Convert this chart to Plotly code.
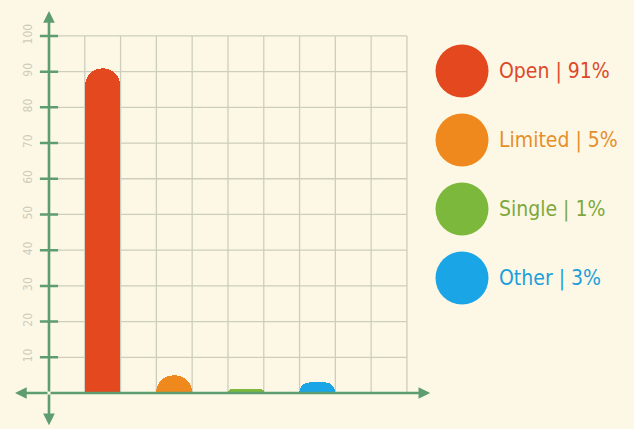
import plotly.graph_objects as go

# ---- data ----
categories = ["Open", "Limited", "Single", "Other"]
values = [91, 5, 1, 3]
bar_colors = ["#e4481f", "#f0891d", "#7cb83c", "#1aa5e6"]
text_colors = ["#dd4a2b", "#e58f2c", "#7da83e", "#1c9fdc"]
y_ticks = [10, 20, 30, 40, 50, 60, 70, 80, 90, 100]
x_cells = list(range(0, 11))

BG = "#fdf8e5"
GREEN = "#5e9d70"
GRID = "#cdcebd"

fig = go.Figure()

# grid (bounded box 0..10 x 0..100)
shapes = []
for xc in x_cells[1:]:
    shapes.append(dict(type="line", xref="x", yref="y", x0=xc, x1=xc, y0=0, y1=y_ticks[-1],
                       line=dict(color=GRID, width=1.3), layer="below"))
for yt in y_ticks:
    shapes.append(dict(type="line", xref="x", yref="y", x0=0, x1=x_cells[-1], y0=yt, y1=yt,
                       line=dict(color=GRID, width=1.3), layer="below"))

# bars
xpos = [2 * i + 1.5 for i in range(len(categories))]
fig.add_trace(go.Bar(
    x=xpos, y=values, width=1.0,
    marker=dict(color=bar_colors, line=dict(width=0), cornerradius=18),
    showlegend=False, hoverinfo="skip",
))

# tick marks crossing the y axis
fig.add_trace(go.Scatter(
    x=[0] * len(y_ticks), y=y_ticks, mode="markers",
    marker=dict(symbol="line-ew", size=13, line=dict(color=GREEN, width=2.5)),
    showlegend=False, hoverinfo="skip",
))

# axes with arrows
annotations = []
for (hx, hy) in [(0, 107), (0, -9), (-0.95, 0), (10.65, 0)]:
    annotations.append(dict(
        x=hx, y=hy, ax=0, ay=0, xref="x", yref="y", axref="x", ayref="y",
        text="", showarrow=True, arrowhead=2, arrowsize=0.9, arrowwidth=2.6,
        arrowcolor=GREEN, standoff=0, startstandoff=0,
    ))

# legend: circles + labels
leg_y = [71 + 69 * i for i in range(len(categories))]
fig.add_trace(go.Scatter(
    x=[462] * len(categories), y=leg_y, mode="markers",
    marker=dict(size=53, color=bar_colors, line=dict(width=0)),
    xaxis="x2", yaxis="y2", showlegend=False, hoverinfo="skip", cliponaxis=False,
))
for i, (c, v) in enumerate(zip(categories, values)):
    annotations.append(dict(
        x=497, y=leg_y[i], xref="x2", yref="y2", xanchor="left", yanchor="middle",
        text=f"{c} | {v}%", showarrow=False,
        font=dict(family="DejaVu Sans Condensed", size=21, color=text_colors[i]),
    ))

fig.update_layout(
    width=634, height=429,
    margin=dict(l=0, r=0, t=0, b=0),
    paper_bgcolor=BG, plot_bgcolor="rgba(0,0,0,0)",
    shapes=shapes, annotations=annotations,
    xaxis=dict(domain=[13.2 / 634, 432 / 634], range=[-1, 10.7], showgrid=False,
               zeroline=False, showticklabels=False, fixedrange=True),
    yaxis=dict(domain=[0.0007, 0.9828], range=[-10, 108], showgrid=False, zeroline=False,
               tickvals=y_ticks, ticktext=[str(t) for t in y_ticks], tickangle=-90,
               tickfont=dict(family="DejaVu Sans Condensed", size=12, color="#cdcdbd"),
               anchor="free", position=49 / 634, ticks="outside", ticklen=12,
               tickcolor="rgba(0,0,0,0)", fixedrange=True),
    xaxis2=dict(domain=[0, 1], range=[0, 634], visible=False, fixedrange=True, anchor="y2"),
    yaxis2=dict(domain=[0, 1], range=[429, 0], visible=False, fixedrange=True, anchor="x2"),
    bargap=0,
)

fig.write_html("out.html", config={"displayModeBar": False},
               post_script="document.body.style.margin='0px';")
